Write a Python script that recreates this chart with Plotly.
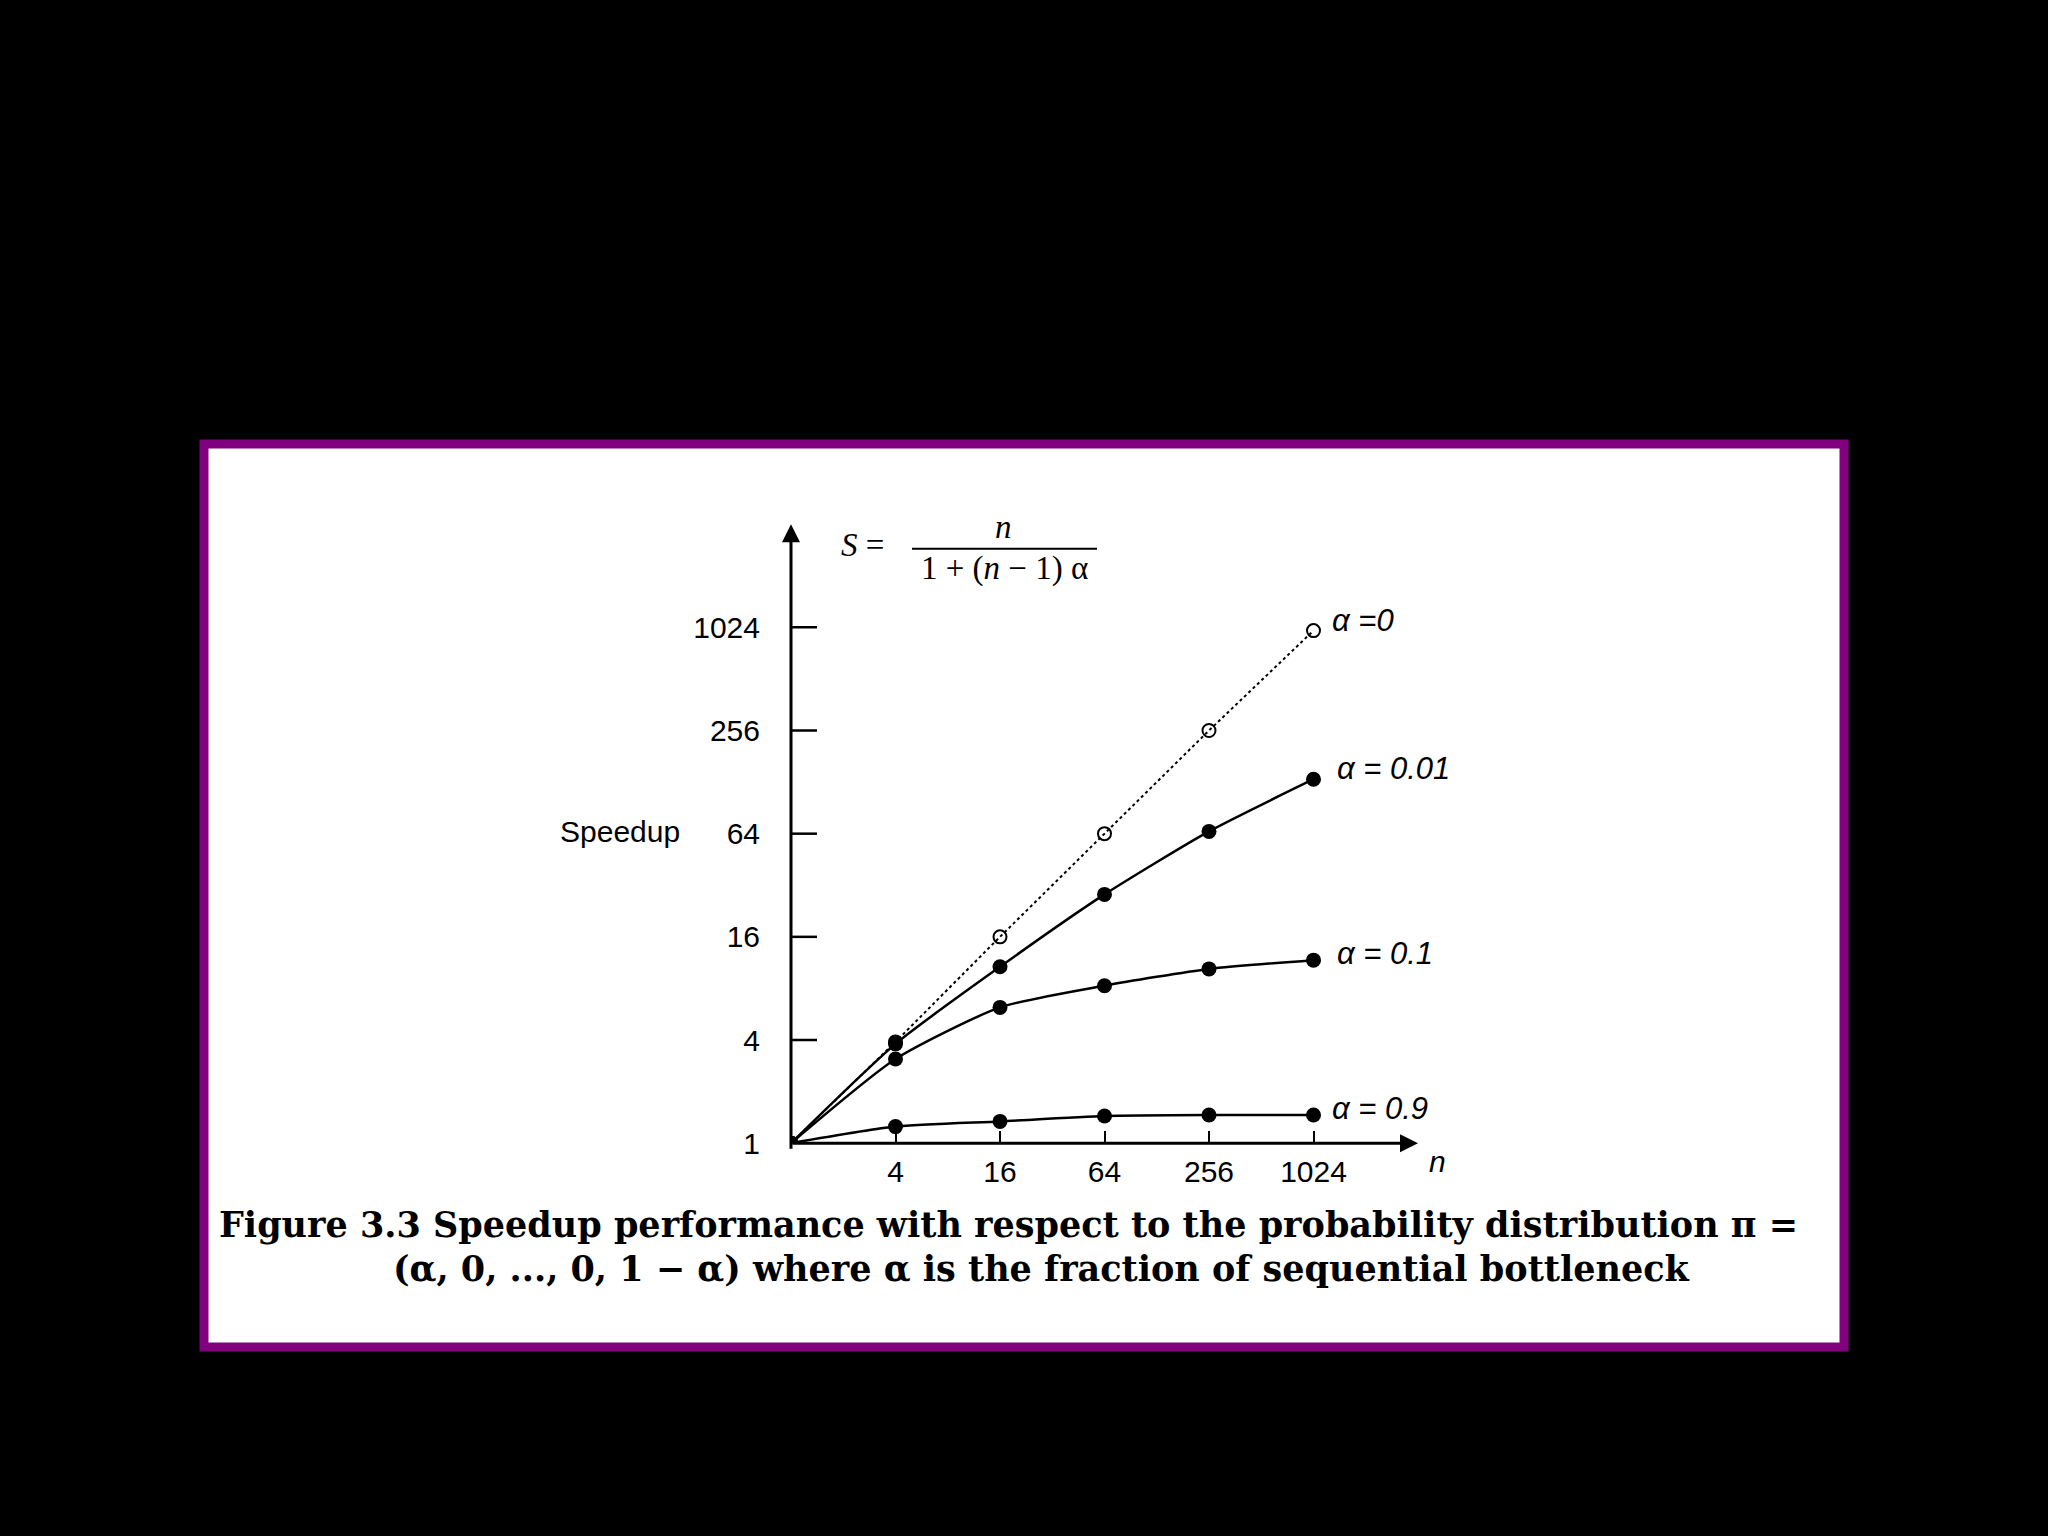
import plotly.graph_objects as go

n_vals = [1, 4, 16, 64, 256, 1024]
s_alpha0 = [1, 3.9, 16, 64, 256, 980]
s_alpha001 = [1, 3.8, 10.7, 28.3, 66, 133]
s_alpha01 = [1, 3.1, 6.2, 8.3, 10.4, 11.7]
s_alpha09 = [1, 1.25, 1.34, 1.44, 1.46, 1.46]
tick_vals = [1, 4, 16, 64, 256, 1024]
tick_text = ["1", "4", "16", "64", "256", "1024"]
series_labels = ["α =0", "α = 0.01", "α = 0.1", "α = 0.9"]

W, H = 2048, 1536
DY = 13  # vertical shift of the drawing
xd = [791 / W, 1418 / W]
yd = [1 - (1143 + DY) / H, 1 - (517 + DY) / H]

fig = go.Figure()
fig.add_trace(go.Scatter(
    x=n_vals, y=s_alpha0, mode="lines+markers",
    line=dict(color="black", width=2, dash="dot"),
    marker=dict(symbol="circle-open", size=13, color="black", line=dict(width=2)),
))
for ys in [s_alpha001, s_alpha01, s_alpha09]:
    fig.add_trace(go.Scatter(
        x=n_vals, y=ys, mode="lines+markers",
        line=dict(color="black", width=2.5, shape="spline", smoothing=0.6),
        marker=dict(symbol="circle", size=15, color="black"),
    ))

font = dict(family="Liberation Sans", size=30, color="black")
fig.update_layout(
    width=W, height=H, margin=dict(l=0, r=0, t=0, b=0),
    paper_bgcolor="black", plot_bgcolor="rgba(0,0,0,0)", showlegend=False,
    xaxis=dict(type="log", domain=xd, range=[0, 12 * 0.30103],
               tickvals=tick_vals[1:], ticktext=tick_text[1:], ticks="inside",
               ticklen=12, tickwidth=2, tickcolor="black", showgrid=False,
               zeroline=False, showline=False, tickfont=font, ticklabelstandoff=8),
    yaxis=dict(type="log", domain=yd, range=[0, 12 * 0.30103],
               tickvals=tick_vals, ticktext=tick_text, ticks="outside",
               ticklen=0, showgrid=False, zeroline=False, showline=False,
               tickfont=font, ticklabelstandoff=24),
    shapes=[
        dict(type="rect", xref="paper", yref="paper", x0=204 / W, x1=1844 / W,
             y0=1 - 1362 / H, y1=1 - 449 / H, fillcolor="white",
             line=dict(color="#800080", width=9), layer="below"),
        dict(type="line", xref="paper", yref="paper", x0=912 / W, x1=1097 / W,
             y0=1 - (542 + DY) / H, y1=1 - (542 + DY) / H,
             line=dict(color="black", width=2)),
    ],
)
# y tick marks pointing right
for v in tick_vals[1:]:
    fig.add_shape(type="line", xref="paper", yref="y", x0=xd[0], x1=xd[0] + 26 / W,
                  y0=v, y1=v, line=dict(color="black", width=2.5))

# axes with arrows
fig.add_annotation(xref="paper", yref="paper", x=xd[1], y=yd[0],
                   ax=-(xd[1] - xd[0]) * W, ay=0, text="", showarrow=True,
                   arrowhead=2, arrowsize=1.2, arrowwidth=3, arrowcolor="black")
fig.add_annotation(xref="paper", yref="paper", x=xd[0], y=yd[1], ax=0,
                   ay=(yd[1] - yd[0]) * H, text="", showarrow=True, arrowhead=2,
                   arrowsize=1.2, arrowwidth=3, arrowcolor="black")

def txt(x, y, t, size=30, anchor="center", fam="Liberation Sans", italic=False):
    f = dict(family=fam, size=size, color="black")
    if italic:
        f["style"] = "italic"
    fig.add_annotation(xref="paper", yref="paper", x=x / W, y=1 - (y + DY) / H, text=t,
                       showarrow=False, xanchor=anchor, yanchor="middle", font=f)

txt(620, 828, "Speedup")
txt(1437, 1162, "n", italic=True)
txt(862, 538, "<i>S</i> =", fam="Liberation Serif", size=33)
txt(1003, 520, "<i>n</i>", fam="Liberation Serif", size=33)
txt(1004, 562, "1 + (<i>n</i> − 1) α", fam="Liberation Serif", size=33)
for (x, y), lab in zip([(1330, 614), (1335, 764), (1335, 951), (1330, 1108)], series_labels):
    txt(x, y, lab, anchor="left", italic=True, size=31)

cap = dict(family="DejaVu Serif", size=35, color="black", weight="bold")
fig.add_annotation(xref="paper", yref="paper", x=1008 / W, y=1 - 1261 / H, showarrow=False,
                   text="Figure 3.3 Speedup performance with respect to the probability distribution π =",
                   font=cap)
fig.add_annotation(xref="paper", yref="paper", x=1041 / W, y=1 - 1305 / H, showarrow=False,
                   text="(α, 0, ..., 0, 1 − α) where α is the fraction of sequential bottleneck",
                   font=cap)

fig.write_html("out.html", config={"displayModeBar": False},
               post_script="document.body.style.margin='0';document.body.style.background='black';")
